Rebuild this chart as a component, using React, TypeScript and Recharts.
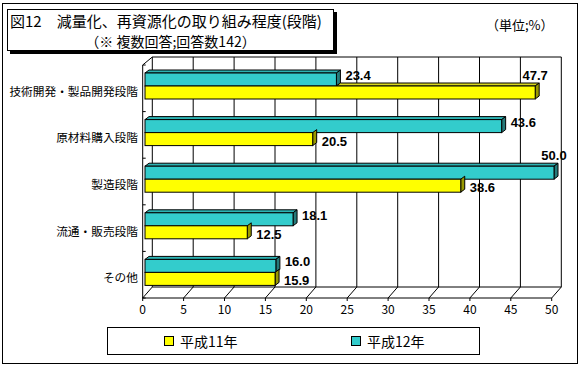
import { BarChart, Bar, XAxis, YAxis, CartesianGrid, LabelList } from "recharts"

const CATEGORIES = ["技術開発・製品開発段階", "原材料購入段階", "製造段階", "流通・販売段階", "その他"]
const H11 = [47.7, 20.5, 38.6, 12.5, 15.9]
const H12 = [23.4, 43.6, 50.0, 18.1, 16.0]
const TICKS = [0, 5, 10, 15, 20, 25, 30, 35, 40, 45, 50]
const SERIES = [
  { key: "h11", name: "平成11年", front: "#FFFF00", top: "#D6D61F", side: "#999900" },
  { key: "h12", name: "平成12年", front: "#33CCCC", top: "#2DB3B3", side: "#267A7A" },
]

const data = CATEGORIES.map((name, i) => ({ name, h11: H11[i], h12: H12[i] }))

const FONT = "'Noto Sans CJK JP', 'Noto Sans', sans-serif"
const LABEL_FONT = "'Liberation Sans', Arial, sans-serif"
const DX = 4
const DY = 3
// 3D frame offsets relative to the plot area
const BACK_X = 7.3
const FRONT_X = -2.3
const PLOT = { left: 145, top: 63, width: 409, height: 233 }

function box(x: number, y: number, w: number, h: number, c: any, topStart: number | null) {
  return (
    <g stroke="#000" strokeWidth={1}>
      {topStart !== null && topStart < x + w && (
        <polygon
          points={`${topStart},${y} ${topStart + DX},${y - DY} ${x + w + DX},${y - DY} ${x + w},${y}`}
          fill={c.top}
        />
      )}
      <polygon
        points={`${x + w},${y} ${x + w + DX},${y - DY} ${x + w + DX},${y + h - DY} ${x + w},${y + h}`}
        fill={c.side}
      />
      <rect x={x} y={y} width={w} height={h} fill={c.front} />
    </g>
  )
}

const tealShape = (p: any) => box(p.x, p.y, p.width, p.height, SERIES[1], p.x)

const yellowShape = (p: any) => {
  const v = p.payload.h11
  const t = p.payload.h12
  const tealEnd = p.x + (p.width * t) / v
  return box(p.x, p.y, p.width, p.height, SERIES[0], tealEnd)
}

const makeLabel = (shift: number) => (p: any) => {
  const { x, y, width, height, value } = p
  const txt = Number(value).toFixed(1)
  if (value > 45) {
    return (
      <text x={x + width} y={y - 11} textAnchor="middle" dominantBaseline="central"
        fontFamily={LABEL_FONT} fontWeight="bold" fontSize={13} fill="#000">
        {txt}
      </text>
    )
  }
  return (
    <text x={x + width + 9} y={y + height / 2 + shift} dominantBaseline="central"
      fontFamily={LABEL_FONT} fontWeight="bold" fontSize={13} fill="#000">
      {txt}
    </text>
  )
}

const gridLine = (p: any) => {
  const x = p.x1
  const top = Math.min(p.y1, p.y2)
  const bottom = Math.max(p.y1, p.y2)
  const bx = x + BACK_X
  const bTop = top - 6
  const bBot = bottom - 9
  const fx = x + FRONT_X
  const fBot = bottom + 2
  const first = Math.abs(x - PLOT.left) < 1
  const rows = CATEGORIES.length
  return (
    <g key={`g-${x}`} stroke="#000" strokeWidth={1} fill="none">
      <line x1={bx} y1={bTop} x2={bx} y2={bBot} />
      <line x1={fx} y1={fBot} x2={bx} y2={bBot} />
      <line x1={fx} y1={fBot} x2={fx} y2={fBot + 3} />
      {first && (
        <g>
          <line x1={bx} y1={bTop} x2={bx + PLOT.width} y2={bTop} />
          <line x1={bx} y1={bBot} x2={bx + PLOT.width} y2={bBot} />
          <line x1={fx} y1={fBot} x2={fx + PLOT.width} y2={fBot} />
          <line x1={fx} y1={top + 2} x2={fx} y2={fBot} />
          <line x1={fx} y1={top + 2} x2={bx} y2={bTop} />
          {Array.from({ length: rows + 1 }, (_, k) => {
            const yy = top + 2 + (k * (bottom - top)) / rows
            return <line key={k} x1={fx} y1={yy} x2={fx + 3} y2={yy} />
          })}
        </g>
      )}
    </g>
  )
}

const XTick = (p: any) => (
  <text x={p.x + FRONT_X} y={p.y + 12} textAnchor="middle" dominantBaseline="central"
    fontFamily={FONT} fontSize={12} fill="#000">
    {p.payload.value}
  </text>
)

const YTick = (p: any) => (
  <text x={p.x - 7} y={p.y + 4} textAnchor="end" dominantBaseline="central"
    fontFamily={FONT} fontSize={11.7} fill="#000">
    {p.payload.value}
  </text>
)

export default function App() {
  return (
    <div style={{ position: "relative", width: 581, height: 367, background: "#fff", fontFamily: FONT }}>
      <style>{`body{margin:0}`}</style>
      <div style={{ position: "absolute", left: 2, top: 3, width: 574, height: 359, border: "1px solid #000" }} />
      <BarChart
        width={581}
        height={367}
        data={data}
        layout="vertical"
        margin={{ top: PLOT.top, right: 581 - PLOT.left - PLOT.width, left: 0, bottom: 0 }}
        barSize={13}
        barGap={0}
        style={{ position: "absolute", left: 0, top: 0 }}
      >
        <CartesianGrid horizontal={false} vertical={gridLine} />
        <XAxis type="number" domain={[0, 50]} ticks={TICKS} interval={0} height={367 - PLOT.top - PLOT.height}
          axisLine={false} tickLine={false} tickSize={0} tickMargin={0} tick={<XTick />} />
        <YAxis type="category" dataKey="name" width={PLOT.left} axisLine={false} tickLine={false}
          tickSize={0} tickMargin={0} tick={<YTick />} interval={0} />
        <Bar dataKey="h12" name={SERIES[1].name} shape={tealShape} isAnimationActive={false}>
          <LabelList dataKey="h12" content={makeLabel(-4)} />
        </Bar>
        <Bar dataKey="h11" name={SERIES[0].name} shape={yellowShape} isAnimationActive={false}>
          <LabelList dataKey="h11" content={makeLabel(2)} />
        </Bar>
      </BarChart>
      <div style={{ position: "absolute", left: 7, top: 9, width: 325, height: 40, border: "1px solid #000",
        boxShadow: "3px 3px 0 #000", background: "#fff" }}>
        <div style={{ position: "absolute", left: 2, top: 1, fontSize: 15, lineHeight: "20px", whiteSpace: "nowrap" }}>
          図12　減量化、再資源化の取り組み程度(段階)
        </div>
        <div style={{ position: "absolute", left: 0, top: 21, width: 325, textAlign: "center", fontSize: 14, lineHeight: "20px", whiteSpace: "nowrap" }}>
          （※ 複数回答;回答数142）
        </div>
      </div>
      <div style={{ position: "absolute", left: 486, top: 16, fontSize: 13, lineHeight: "18px", whiteSpace: "nowrap" }}>
        （単位;%）
      </div>
      <div style={{ position: "absolute", left: 107, top: 327, width: 371, height: 26, border: "1px solid #000" }}>
        {[SERIES[0], SERIES[1]].map((s, i) => (
          <div key={s.key} style={{ position: "absolute", left: 56 + i * 187, top: 4, display: "flex", alignItems: "center", whiteSpace: "nowrap" }}>
            <span style={{ display: "inline-block", width: 8, height: 8, border: "1px solid #000", background: s.front, marginRight: 6 }} />
            <span style={{ fontSize: 14, lineHeight: "18px" }}>{s.name}</span>
          </div>
        ))}
      </div>
    </div>
  )
}
